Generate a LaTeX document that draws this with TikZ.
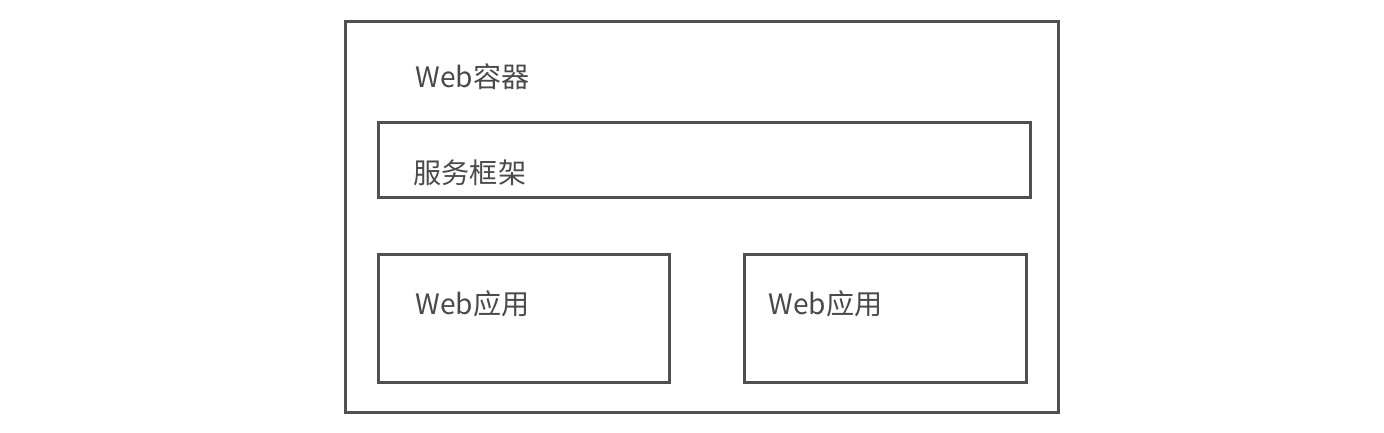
\documentclass[tikz,border=0pt]{standalone}
\usepackage{fontspec}
\setmainfont{Noto Sans CJK SC}
\usetikzlibrary{positioning}
\definecolor{linegray}{HTML}{505050}
\definecolor{textgray}{HTML}{4A4A4A}

\begin{document}
\begin{tikzpicture}[
  x=0.01cm, y=0.01cm,
  box/.style={rectangle, draw=linegray, line width=0.85pt, inner sep=0pt},
  tag/.style={anchor=west, inner sep=0pt, text=textgray, font=\fontsize{8pt}{9.6pt}\selectfont}
]
\useasboundingbox (0,0) rectangle (1384,432);
\node[box, minimum width=7.12cm, minimum height=3.90cm] (container) at (702,215) {};
\node[box, minimum width=6.51cm, minimum height=0.74cm] (framework) at (704.5,272) {};
\node[box, minimum width=2.90cm, minimum height=1.27cm] (appA) at (524,113.5) {};
\node[box, minimum width=2.81cm, minimum height=1.27cm] (appB) at (885.5,113.5) {};

\node[tag] (containerlabel) at (415,355) {Web容器};
\node[tag] (frameworklabel) at (413,259) {服务框架};
\node[tag] (appAlabel) at (415,128) {Web应用};
\node[tag] (appBlabel) at (768,128) {Web应用};
\end{tikzpicture}
\end{document}
